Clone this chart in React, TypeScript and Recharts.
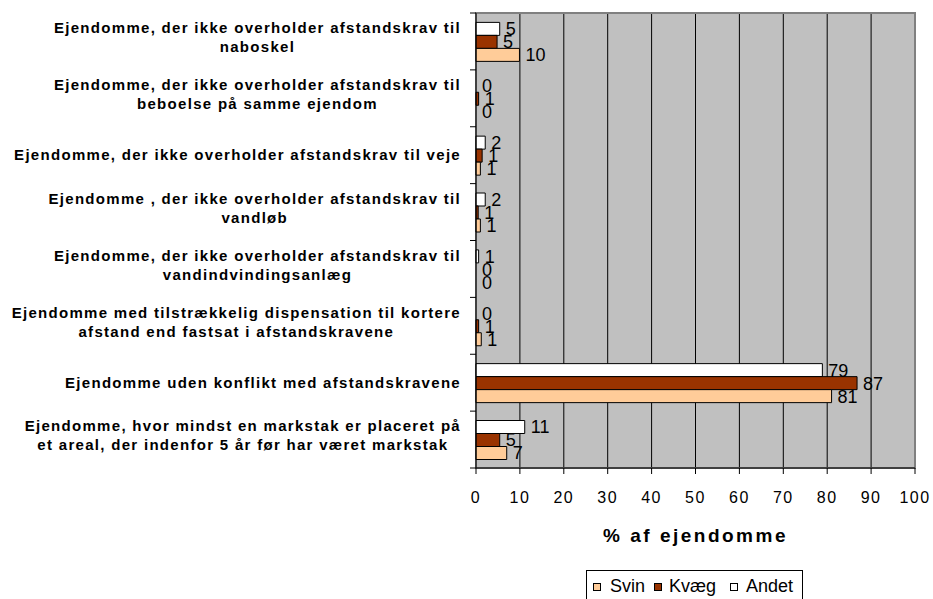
import { Bar, BarChart, CartesianGrid, Cell, LabelList, ReferenceArea, XAxis, YAxis } from "recharts";

const categories = [
  "Ejendomme, der ikke overholder afstandskrav til\nnaboskel",
  "Ejendomme, der ikke overholder afstandskrav til\nbeboelse på samme ejendom",
  "Ejendomme, der ikke overholder afstandskrav til veje",
  "Ejendomme , der ikke overholder afstandskrav til\nvandløb",
  "Ejendomme, der ikke overholder afstandskrav til\nvandindvindingsanlæg",
  "Ejendomme med tilstrækkelig dispensation til kortere\nafstand end fastsat i afstandskravene",
  "Ejendomme uden konflikt med afstandskravene",
  "Ejendomme, hvor mindst en markstak er placeret på\net areal, der indenfor 5 år før har været markstak",
];

const svin = [9.9, 0, 1.0, 1.0, 0, 1.2, 81.0, 7.0];
const kvaeg = [4.8, 0.6, 1.4, 0.5, 0, 0.6, 86.8, 5.4];
const andet = [5.4, 0, 2.1, 2.1, 0.6, 0, 78.9, 11.1];

const xTicks = [0, 10, 20, 30, 40, 50, 60, 70, 80, 90, 100];

const legendItems = [
  { name: "Svin", color: "#FFCC99", swatchX: 593, textX: 610 },
  { name: "Kvæg", color: "#993300", swatchX: 654, textX: 669 },
  { name: "Andet", color: "#FFFFFF", swatchX: 730, textX: 746 },
];

const data = categories.map((name, i) => ({
  name,
  svin: svin[i],
  kvaeg: kvaeg[i],
  andet: andet[i],
}));

const FONT = '"Liberation Sans", Arial, sans-serif';
const CAT_SIZE = 15;
const CAT_SPACING = 1.3;

let ctx: CanvasRenderingContext2D | null = null;
function measure(text: string) {
  if (!ctx) {
    ctx = document.createElement("canvas").getContext("2d");
  }
  if (!ctx) return text.length * 9;
  ctx.font = `bold ${CAT_SIZE}px "Liberation Sans"`;
  return ctx.measureText(text).width + CAT_SPACING * text.length;
}

function CategoryTick({ x, y, payload }: any) {
  const lines = String(payload.value).split("\n");
  const half = payload.offset || 28.4;
  const maxW = Math.max(...lines.map(measure));
  const cx = x - 15 - maxW / 2;
  const ys = lines.length === 1 ? [y] : [y - 13.5, y + 5.5];
  return (
    <g>
      <line x1={x - 6} x2={x} y1={y - half} y2={y - half} stroke="#000" />
      {payload.index === categories.length - 1 && (
        <line x1={x - 6} x2={x} y1={y + half} y2={y + half} stroke="#000" />
      )}
      {lines.map((l, i) => (
        <text
          key={i}
          x={cx}
          y={ys[i]}
          dy="0.35em"
          textAnchor="middle"
          fontFamily={FONT}
          fontWeight="bold"
          fontSize={CAT_SIZE}
          letterSpacing={CAT_SPACING}
          fill="#000"
        >
          {l}
        </text>
      ))}
    </g>
  );
}

// values are shown rounded, as in the original
const fmt = (v: any) => String(Math.round(Number(v)));
const labelStyle = { fontFamily: FONT, fontSize: 18, fill: "#000" };

// zero bars get no outline but still carry their "0" label
function series(key: string, name: string, color: string, values: number[]) {
  return (
    <Bar
      key={key}
      dataKey={key}
      name={name}
      fill={color}
      stroke="#000"
      strokeWidth={1}
      minPointSize={0.01}
      isAnimationActive={false}
    >
      {values.map((v, i) => (
        <Cell key={i} stroke={v === 0 ? "none" : "#000"} />
      ))}
      <LabelList dataKey={key} position="right" offset={6} formatter={fmt} style={labelStyle} />
    </Bar>
  );
}

export default function App() {
  return (
    <div style={{ position: "absolute", left: 0, top: 0, width: 933, height: 599, background: "#fff" }}>
      <BarChart
        width={933}
        height={599}
        data={data}
        layout="vertical"
        margin={{ top: 13, right: 18, bottom: 51, left: 0 }}
        barCategoryGap="16.5%"
        barGap={0}
      >
        <CartesianGrid horizontal={false} stroke="#000" fill="#C0C0C0" />
        <ReferenceArea x1={0} x2={100} fill="none" stroke="#808080" strokeWidth={2} />
        <XAxis
          type="number"
          domain={[0, 100]}
          ticks={xTicks}
          stroke="#000"
          tickSize={6}
          tickMargin={18}
          height={80}
          tick={{ fill: "#000", fontSize: 16, fontFamily: FONT, letterSpacing: 1.5 }}
          label={{
            value: "% af ejendomme",
            position: "insideBottom",
            offset: 6,
            fill: "#000",
            fontSize: 19,
            fontWeight: "bold",
            fontFamily: FONT,
            letterSpacing: 2.5,
          }}
        />
        <YAxis
          type="category"
          dataKey="name"
          width={476}
          stroke="#000"
          tickLine={false}
          tickSize={0}
          tickMargin={0}
          interval={0}
          tick={<CategoryTick />}
        />
        {series("andet", "Andet", "#FFFFFF", andet)}
        {series("kvaeg", "Kvæg", "#993300", kvaeg)}
        {series("svin", "Svin", "#FFCC99", svin)}
      </BarChart>
      <div
        style={{
          position: "absolute",
          left: 586,
          top: 570,
          width: 217,
          height: 35,
          border: "1px solid #000",
          boxSizing: "border-box",
          background: "#fff",
          fontFamily: FONT,
          fontSize: 18,
        }}
      >
        {legendItems.map((it) => (
          <div key={it.name}>
            <span
              style={{
                position: "absolute",
                left: it.swatchX - 587,
                top: 12,
                width: 8,
                height: 8,
                boxSizing: "border-box",
                border: "1px solid #000",
                background: it.color,
              }}
            />
            <span style={{ position: "absolute", left: it.textX - 587, top: 5, lineHeight: "20px" }}>{it.name}</span>
          </div>
        ))}
      </div>
    </div>
  );
}
